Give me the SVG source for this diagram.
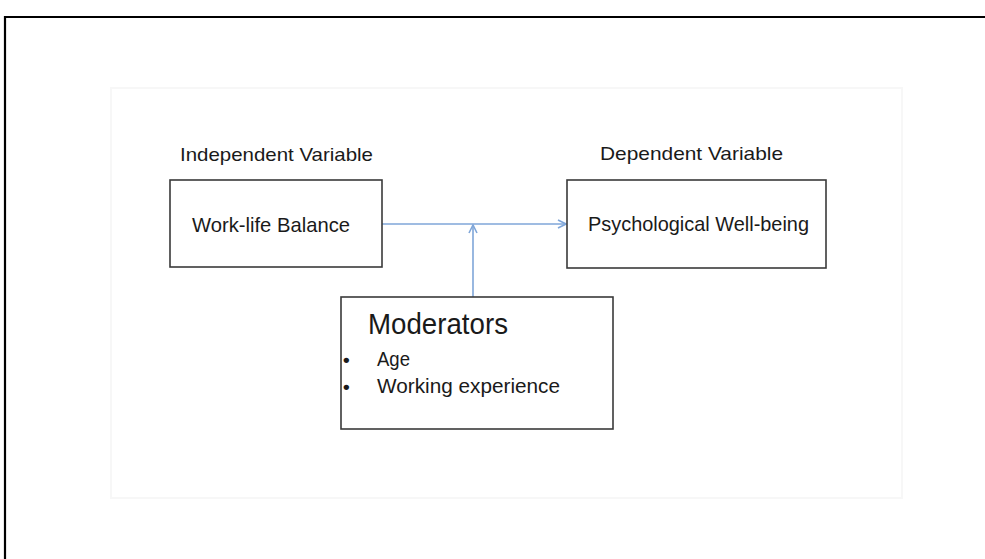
<svg xmlns="http://www.w3.org/2000/svg" width="985" height="559" viewBox="0 0 985 559">
<defs>
<style>
.box{fill:#ffffff;stroke:#3a3a3a;stroke-width:1.6}
.t{font-family:"Liberation Sans",Arial,sans-serif;fill:#1a1a1a}
.con{fill:none;stroke:#7fa6d9;stroke-width:1.6}
</style>
<marker id="arr" viewBox="0 0 10 10" refX="9" refY="5" markerWidth="10" markerHeight="10" markerUnits="userSpaceOnUse" orient="auto">
<path d="M1,1 L9,5 L1,9" fill="none" stroke="#7fa6d9" stroke-width="1.6"/>
</marker>
</defs>
<rect x="0" y="0" width="985" height="559" fill="#ffffff"/>
<path d="M5,559 V17 H985" fill="none" stroke="#000000" stroke-width="2.2"/>
<rect x="111" y="88" width="791" height="410" fill="none" stroke="#f7f7f7" stroke-width="2"/>
<g id="connectors">
<line class="con" x1="382" y1="224" x2="566" y2="224" marker-end="url(#arr)"/>
<line class="con" x1="473" y1="297" x2="473" y2="225" marker-end="url(#arr)"/>
</g>
<g id="independent">
<text class="t" x="180" y="161" font-size="19" textLength="193" lengthAdjust="spacingAndGlyphs">Independent Variable</text>
<rect class="box" x="170" y="180" width="212" height="87"/>
<text class="t" x="192" y="232" font-size="21" textLength="158" lengthAdjust="spacingAndGlyphs">Work-life Balance</text>
</g>
<g id="dependent">
<text class="t" x="600" y="160" font-size="19" textLength="183" lengthAdjust="spacingAndGlyphs">Dependent  Variable</text>
<rect class="box" x="567" y="180" width="259" height="88"/>
<text class="t" x="588" y="231" font-size="21" textLength="221" lengthAdjust="spacingAndGlyphs">Psychological Well-being</text>
</g>
<g id="moderators">
<rect class="box" x="341" y="297" width="272" height="132"/>
<text class="t" x="368" y="334" font-size="29" textLength="140" lengthAdjust="spacingAndGlyphs">Moderators</text>
<text class="t" x="343" y="366" font-size="19" font-weight="bold">•</text>
<text class="t" x="377" y="366" font-size="20" textLength="33" lengthAdjust="spacingAndGlyphs">Age</text>
<text class="t" x="343" y="393" font-size="19" font-weight="bold">•</text>
<text class="t" x="377" y="393" font-size="20" textLength="183" lengthAdjust="spacingAndGlyphs">Working  experience</text>
</g>
</svg>
